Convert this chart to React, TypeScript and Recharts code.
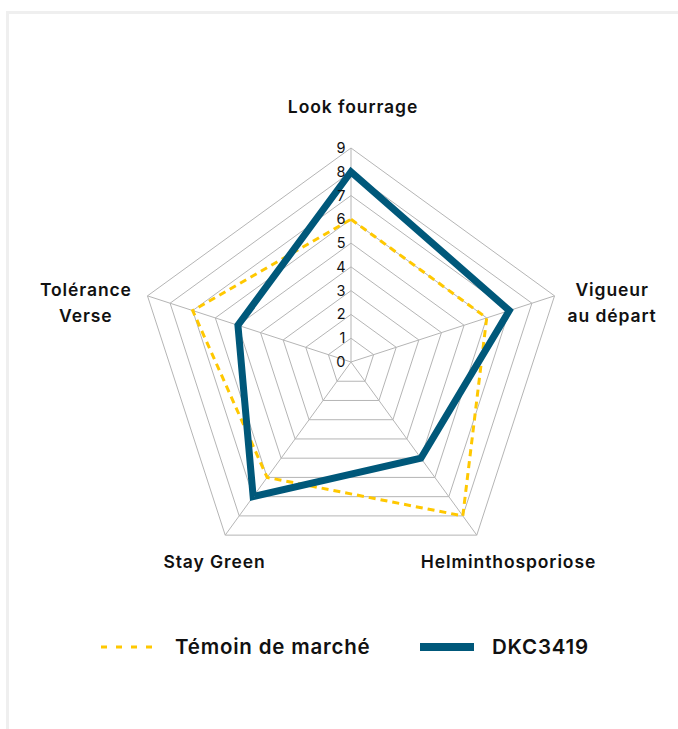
import { PolarAngleAxis, PolarGrid, PolarRadiusAxis, Radar, RadarChart, Legend } from "recharts";

const criteria = ["Look fourrage", "Vigueur\nau départ", "Helminthosporiose", "Stay Green", "Tolérance\nVerse"];
const temoinValues = [6, 6, 8, 6, 7];
const dkcValues = [8, 7, 5, 7, 5];
const radiusTicks = [0, 1, 2, 3, 4, 5, 6, 7, 8, 9];

const TEMOIN_NAME = "Témoin de marché";
const DKC_NAME = "DKC3419";
const YELLOW = "#ffc800";
const NAVY = "#00587a";
const FONT = "Inter, 'Open Sans', sans-serif";

// label nudges relative to the tick anchor recharts gives us
const labelShift = [
  { dx: 2, dy: -27 },
  { dx: 50, dy: 3 },
  { dx: 27, dy: 26 },
  { dx: -6, dy: 26 },
  { dx: -54, dy: 3 },
];

const data = criteria.map((c, i) => ({
  criterion: c,
  temoin: temoinValues[i],
  dkc: dkcValues[i],
}));

function AngleTick(props: any) {
  const { x, y, payload, index } = props;
  const s = labelShift[index] ?? { dx: 0, dy: 0 };
  const lines = String(payload.value).split("\n");
  return (
    <text
      x={x + s.dx}
      y={y + s.dy}
      textAnchor="middle"
      fontFamily={FONT}
      fontWeight={600}
      fontSize={17.5}
      letterSpacing={0.9}
      fill="#111"
    >
      {lines.map((l, i) => (
        <tspan key={i} x={x + s.dx} dy={i === 0 ? 0 : 26}>
          {l}
        </tspan>
      ))}
    </text>
  );
}

function RadiusTick(props: any) {
  const { x, y, payload } = props;
  return (
    <text
      x={x - 5}
      y={y + 5}
      textAnchor="end"
      fontFamily={FONT}
      fontSize={14.5}
      letterSpacing={0.5}
      fill="#111"
    >
      {payload.value}
    </text>
  );
}

function ChartLegend() {
  const text = { position: "absolute" as const, top: 0, lineHeight: "28px" };
  return (
    <div
      style={{
        position: "relative",
        height: 28,
        fontFamily: FONT,
        fontWeight: 600,
        fontSize: 20.5,
        letterSpacing: 0.8,
        color: "#111",
      }}
    >
      <svg width={56} height={10} style={{ position: "absolute", left: 101, top: 9 }}>
        <line x1={0} y1={5} x2={54} y2={5} stroke={YELLOW} strokeWidth={3} strokeDasharray="6 9" />
      </svg>
      <span style={{ ...text, left: 175 }}>{TEMOIN_NAME}</span>
      <svg width={54} height={10} style={{ position: "absolute", left: 420, top: 9 }}>
        <line x1={0} y1={5} x2={54} y2={5} stroke={NAVY} strokeWidth={8} />
      </svg>
      <span style={{ ...text, left: 492 }}>{DKC_NAME}</span>
    </div>
  );
}

export default function App() {
  return (
    <div
      style={{
        position: "fixed",
        left: 0,
        top: 0,
        width: 678,
        height: 729,
        background: "#fff",
        overflow: "hidden",
      }}
    >
      <div
        style={{
          position: "absolute",
          left: 6,
          top: 11,
          width: 700,
          height: 740,
          borderTop: "3px solid #efefef",
          borderLeft: "3px solid #efefef",
        }}
      />
      <div style={{ position: "absolute", left: 0, top: 0 }}>
        <RadarChart
          width={678}
          height={729}
          data={data}
          cx={351}
          cy={362}
          outerRadius={214}
          margin={{ top: 0, right: 0, bottom: 0, left: 0 }}
        >
          <PolarGrid gridType="polygon" stroke="#b5b5b5" strokeWidth={1} />
          <PolarAngleAxis dataKey="criterion" tick={AngleTick} tickLine={false} axisLine={false} />
          <PolarRadiusAxis
            angle={90}
            domain={[0, 9]}
            ticks={radiusTicks}
            tick={RadiusTick}
            tickLine={false}
            axisLine={false}
          />
          <Radar
            name={TEMOIN_NAME}
            dataKey="temoin"
            stroke={YELLOW}
            strokeWidth={3}
            strokeDasharray="7 5"
            fill="none"
            isAnimationActive={false}
          />
          <Radar
            name={DKC_NAME}
            dataKey="dkc"
            stroke={NAVY}
            strokeWidth={7}
            fill="none"
            isAnimationActive={false}
          />
          <Legend
            content={() => <ChartLegend />}
            wrapperStyle={{ top: 633, left: 0, width: 678 }}
          />
        </RadarChart>
      </div>
    </div>
  );
}
